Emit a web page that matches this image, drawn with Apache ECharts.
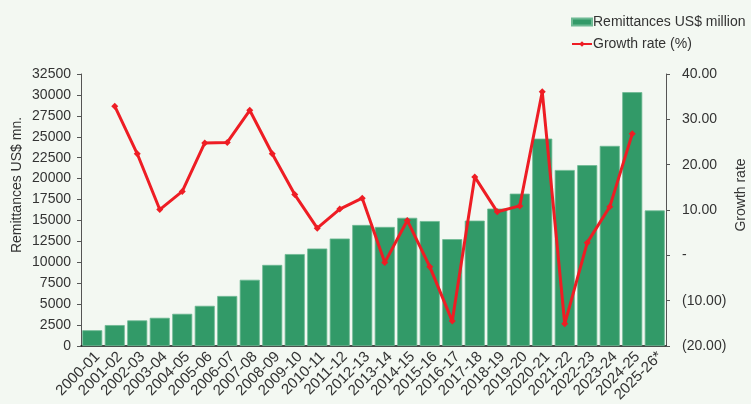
<!DOCTYPE html>
<html>
<head>
<meta charset="utf-8">
<script src="https://cdn.jsdelivr.net/npm/echarts@6/dist/echarts.min.js"></script>
<style>
  html, body { margin: 0; padding: 0; background: #f3f8f2; }
  #chart { width: 751px; height: 404px; }
</style>
</head>
<body>
<div id="chart"></div>
<script>
const years = ['2000-01', '2001-02', '2002-03', '2003-04', '2004-05', '2005-06', '2006-07',
  '2007-08', '2008-09', '2009-10', '2010-11', '2011-12', '2012-13', '2013-14', '2014-15',
  '2015-16', '2016-17', '2017-18', '2018-19', '2019-20', '2020-21', '2021-22', '2022-23',
  '2023-24', '2024-25', '2025-26*'];
const remittances = [1882, 2501, 3062, 3372, 3848, 4802, 5978, 7915, 9689, 10987, 11650,
  12843, 14461, 14228, 15317, 14931, 12769, 14982, 16420, 18205, 24778, 21032, 21610,
  23912, 30328, 16200];
const growthRate = [null, 32.9, 22.4, 10.1, 14.1, 24.8, 24.9, 32.0, 22.4, 13.4, 6.0, 10.2,
  12.6, -1.6, 7.7, -2.5, -14.5, 17.3, 9.6, 10.9, 36.1, -15.1, 2.8, 10.7, 26.8, null];

const chart = echarts.init(document.getElementById('chart'));
const font = 'Liberation Sans, Arial, sans-serif';
const textColor = '#333';

function growthLabel(v) {
  if (v === 0) return '-';
  if (v < 0) return '(' + Math.abs(v).toFixed(2) + ')';
  return v.toFixed(2);
}

chart.setOption({
  backgroundColor: '#f3f8f2',
  textStyle: { fontFamily: font, color: textColor },
  legend: {
    orient: 'vertical',
    left: 571,
    top: 15,
    padding: 0,
    itemWidth: 20,
    itemHeight: 7,
    itemGap: 8,
    textStyle: { fontSize: 14, color: textColor, padding: [0, 0, 0, -4] },
    data: [
      { name: 'Remittances US$ million', icon: 'rect' },
      { name: 'Growth rate (%)' }
    ]
  },
  grid: { left: 81, right: 85, top: 74, bottom: 58, outerBoundsMode: 'none' },
  xAxis: {
    type: 'category',
    data: years,
    axisLine: { lineStyle: { color: '#111', width: 1.5 } },
    axisTick: { length: 4, lineStyle: { color: '#333' } },
    axisLabel: {
      rotate: 45, fontSize: 15, color: textColor, margin: 3, interval: 0,
      verticalAlign: 'top'
    }
  },
  yAxis: [
    {
      type: 'value',
      min: 0,
      max: 32500,
      interval: 2500,
      name: 'Remittances US$ mn.',
      nameLocation: 'middle',
      nameGap: 57,
      nameMoveOverlap: false,
      nameTextStyle: { fontSize: 14, color: textColor, padding: [0, 0, 0, 50] },
      axisLine: { show: true, lineStyle: { color: '#555' } },
      axisTick: { show: true, length: 4, lineStyle: { color: '#555' } },
      axisLabel: { fontSize: 14, color: textColor, margin: 10, formatter: v => String(v) },
      splitLine: { show: false }
    },
    {
      type: 'value',
      min: -20,
      max: 40,
      interval: 10,
      name: 'Growth rate',
      nameLocation: 'middle',
      nameGap: 68,
      nameMoveOverlap: false,
      nameTextStyle: { fontSize: 14, color: textColor, padding: [0, 0, 0, 30] },
      axisLine: { show: true, lineStyle: { color: '#555' } },
      axisTick: { show: true, length: 4, lineStyle: { color: '#555' } },
      axisLabel: { fontSize: 14, color: textColor, margin: 16, formatter: growthLabel },
      splitLine: { show: false }
    }
  ],
  series: [
    {
      name: 'Remittances US$ million',
      type: 'bar',
      data: remittances,
      barCategoryGap: '11%',
      itemStyle: { color: '#329a68', borderColor: '#6db993', borderWidth: 0.8 }
    },
    {
      name: 'Growth rate (%)',
      type: 'line',
      yAxisIndex: 1,
      data: growthRate,
      symbol: 'diamond',
      symbolSize: 7,
      lineStyle: { color: '#ee1d24', width: 3 },
      itemStyle: { color: '#ee1d24' }
    }
  ]
});
</script>
</body>
</html>
